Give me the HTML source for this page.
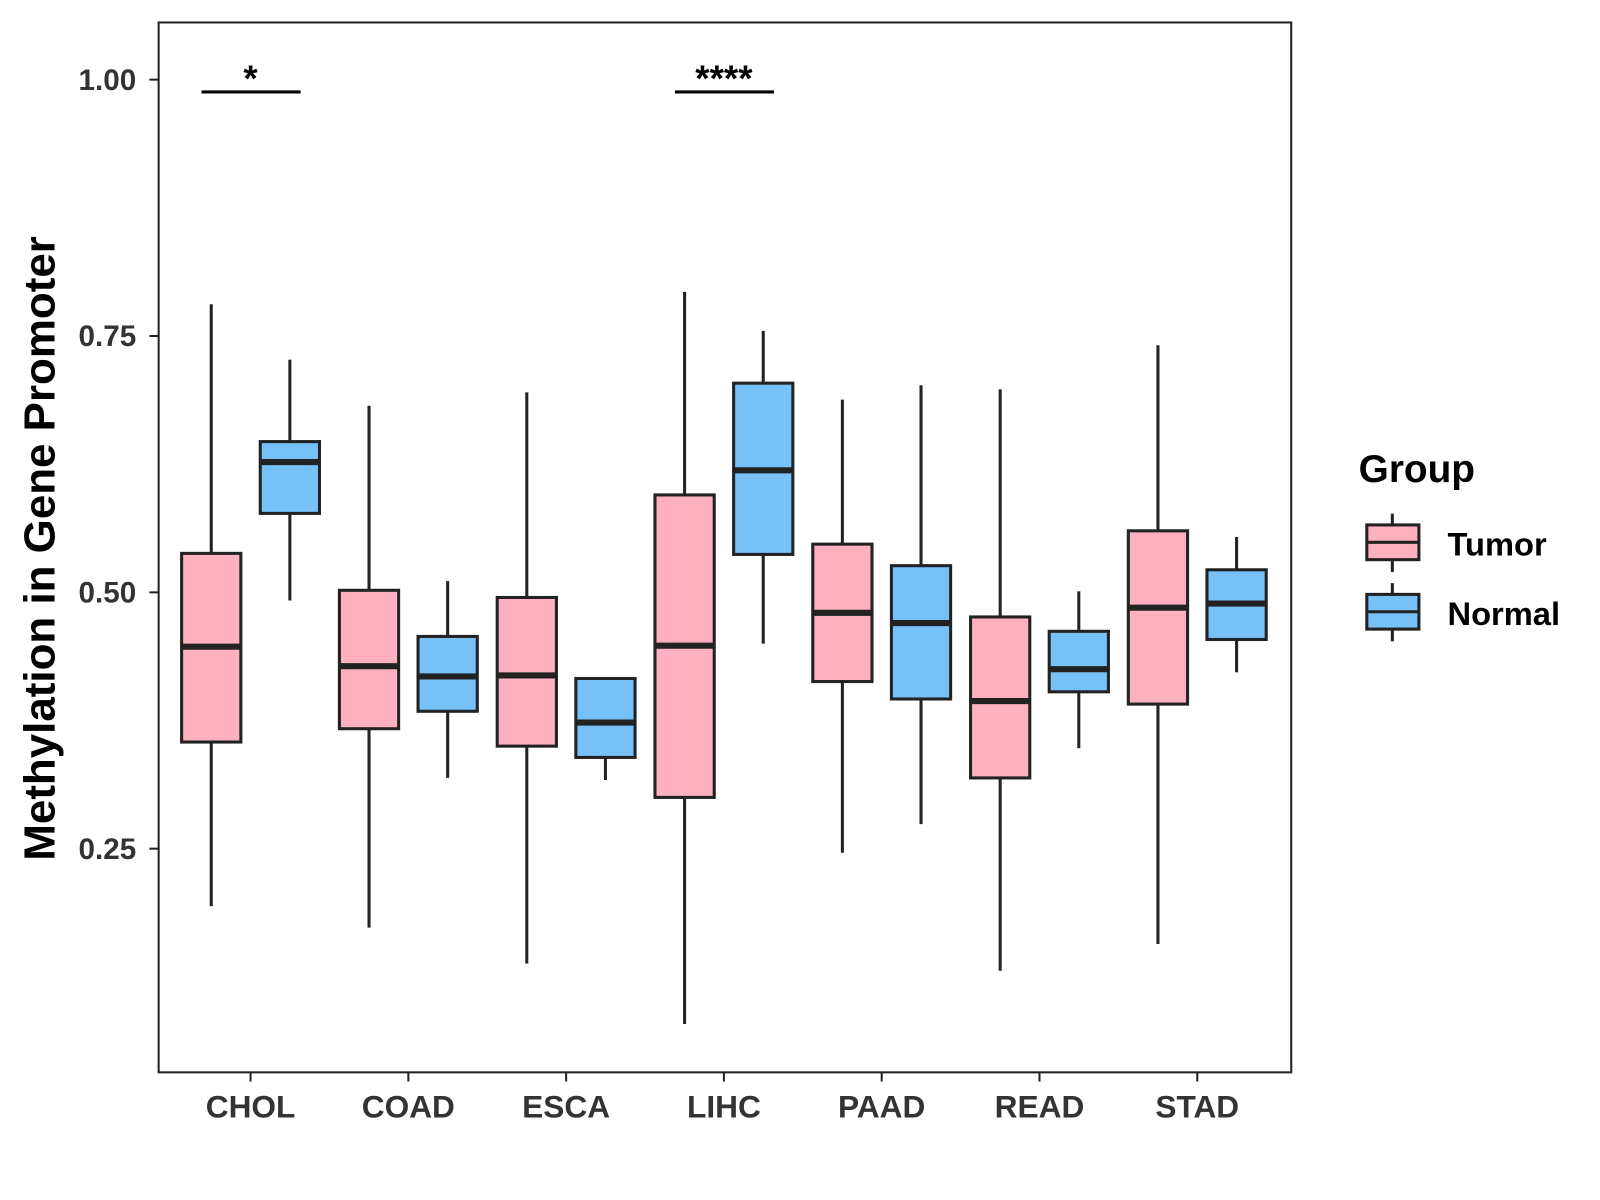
<!DOCTYPE html>
<html><head><meta charset="utf-8"><style>
html,body{margin:0;padding:0;background:#fff;}
svg{display:block;font-family:"Liberation Sans",Arial,sans-serif;}
</style></head><body>
<svg id="chart" width="1600" height="1200" viewBox="0 0 1566 1175">
<rect x="155" y="22" width="1109" height="1028" fill="#fff" stroke="#222" stroke-width="2"/>
<g id="yaxis"></g>
<g id="xaxis"></g>
<g id="boxes"></g>
<g id="sig"></g>
<text x="53" y="537" transform="rotate(-90 53 537)" text-anchor="middle" font-size="43" font-weight="bold" fill="#000">Methylation in Gene Promoter</text>
<g>
<text x="1330" y="472" font-size="38" font-weight="bold" fill="#000">Group</text>
<g>
<line x1="1363" y1="503" x2="1363" y2="560" stroke="#222" stroke-width="3"/>
<rect x="1338" y="514" width="51" height="34" fill="#FDB0C0" stroke="#222" stroke-width="3"/>
<line x1="1338" y1="531" x2="1389" y2="531" stroke="#222" stroke-width="3"/>
<text x="1417" y="544" font-size="32" font-weight="bold" fill="#000">Tumor</text>
</g>
<g>
<line x1="1363" y1="571" x2="1363" y2="628" stroke="#222" stroke-width="3"/>
<rect x="1338" y="582" width="51" height="34" fill="#76C1F8" stroke="#222" stroke-width="3"/>
<line x1="1338" y1="599" x2="1389" y2="599" stroke="#222" stroke-width="3"/>
<text x="1417" y="612" font-size="32" font-weight="bold" fill="#000">Normal</text>
</g>
</g>
</svg>
<script>
const categories=["CHOL","COAD","ESCA","LIHC","PAAD","READ","STAD"];
const tumorLow=[0.194,0.173,0.138,0.079,0.246,0.131,0.157];
const tumorQ1=[0.354,0.367,0.350,0.300,0.413,0.319,0.391];
const tumorMed=[0.447,0.428,0.419,0.448,0.480,0.394,0.485];
const tumorQ3=[0.538,0.502,0.495,0.595,0.547,0.476,0.560];
const tumorHigh=[0.781,0.682,0.695,0.793,0.688,0.698,0.741];
const normalLow=[0.492,0.319,0.317,0.450,0.274,0.348,0.422];
const normalQ1=[0.577,0.384,0.339,0.537,0.396,0.403,0.454];
const normalMed=[0.627,0.418,0.373,0.619,0.470,0.425,0.489];
const normalQ3=[0.647,0.457,0.416,0.704,0.526,0.462,0.522];
const normalHigh=[0.727,0.511,0.416,0.755,0.702,0.501,0.554];
const yTicks=[0.25,0.50,0.75,1.00];
const yTickLabels=["0.25","0.50","0.75","1.00"];
const sigCats=["CHOL","LIHC"];
const sigLabels=["*","****"];
const sigY=[0.988,0.988];

const NS="http://www.w3.org/2000/svg";
function y(v){return 78+(1-v)*1004;}
function x(i){return 245+i*154.5;}
function mk(tag,attrs,parent,txt){const e=document.createElementNS(NS,tag);for(const k in attrs)e.setAttribute(k,attrs[k]);if(txt!==undefined)e.textContent=txt;parent.appendChild(e);return e;}
const ya=document.getElementById('yaxis'),xa=document.getElementById('xaxis'),bx=document.getElementById('boxes'),sg=document.getElementById('sig');
yTicks.forEach((t,i)=>{
 const l=mk('line',{x1:146,x2:155,y1:y(t),y2:y(t),stroke:'#222','stroke-width':2},ya);
 
 
 const tx=mk('text',{x:133,y:y(t)+10,'text-anchor':'end','font-size':29,'font-weight':'bold',fill:'#333'},ya,yTickLabels[i]);
 
 
});
categories.forEach((c,i)=>{
 const l=mk('line',{x1:x(i),x2:x(i),y1:1050,y2:1059,stroke:'#222','stroke-width':2},xa);
 
 
 const tx=mk('text',{x:x(i),y:1094,'text-anchor':'middle','font-size':31,'font-weight':'bold',fill:'#333'},xa,c);
 
 
});
function box(cx,lo,q1,md,q3,hi,fill,name){
 const g=mk('g',{},bx);
 
 
 const w=29;
 mk('line',{x1:cx,x2:cx,y1:y(hi),y2:y(q3),stroke:'#222','stroke-width':3},g);
 mk('line',{x1:cx,x2:cx,y1:y(q1),y2:y(lo),stroke:'#222','stroke-width':3},g);
 mk('rect',{x:cx-w,y:y(q3),width:2*w,height:y(q1)-y(q3),fill:fill,stroke:'#222','stroke-width':3},g);
 mk('line',{x1:cx-w,x2:cx+w,y1:y(md),y2:y(md),stroke:'#222','stroke-width':6},g);
}
categories.forEach((c,i)=>{
 box(x(i)-38.5,tumorLow[i],tumorQ1[i],tumorMed[i],tumorQ3[i],tumorHigh[i],'#FDB0C0','box-'+c.toLowerCase()+'-tumor');
 box(x(i)+38.5,normalLow[i],normalQ1[i],normalMed[i],normalQ3[i],normalHigh[i],'#76C1F8','box-'+c.toLowerCase()+'-normal');
});
sigCats.forEach((c,j)=>{
 const i=categories.indexOf(c);
 const l=mk('line',{x1:x(i)-48,x2:x(i)+49,y1:y(sigY[j]),y2:y(sigY[j]),stroke:'#000','stroke-width':3},sg);
 
 
 const t=mk('text',{x:x(i),y:y(sigY[j])-1,'text-anchor':'middle','font-size':36,'font-weight':'bold',fill:'#000'},sg,sigLabels[j]);
 
 
});
</script>
</body></html>
